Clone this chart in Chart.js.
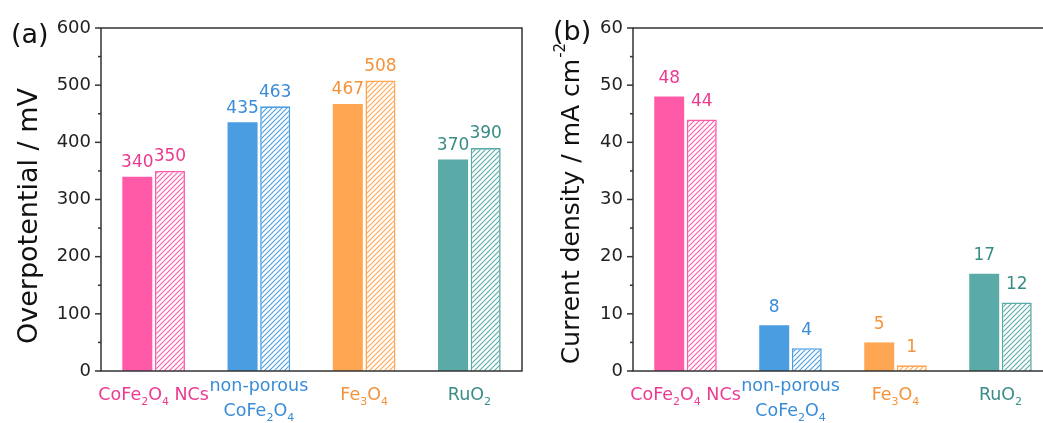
<!DOCTYPE html>
<html>
<head>
<meta charset="utf-8">
<script src="https://cdn.jsdelivr.net/npm/chart.js@4"></script>
<style>
  html, body { margin: 0; padding: 0; background: #fff; overflow: hidden; }
  #wrap { position: relative; width: 1043px; height: 423px; overflow: hidden; }
  .panel { position: absolute; top: 0; }
</style>
</head>
<body>
<div id="wrap">
  <div class="panel" style="left:0px"><canvas id="chartA" width="530" height="423"></canvas></div>
  <div class="panel" style="left:530px"><canvas id="chartB" width="540" height="423"></canvas></div>
</div>
<script>
// category labels, "_n" marks a subscript digit
const categoryLines = [
    ['CoFe_2O_4 NCs'],
    ['non-porous', 'CoFe_2O_4'],
    ['Fe_3O_4'],
    ['RuO_2']
];
const overpotentialSolid = [340, 435, 467, 370];
const overpotentialHatched = [350, 463, 508, 390];
const currentSolid = [48, 8, 5, 17];
const currentHatched = [44, 4, 1, 12];

const barColors = ['#ff5aa8', '#4a9de0', '#ffa652', '#5aaaa8'];
const textColors = ['#ec3a90', '#3a8cd8', '#f5923a', '#3a8c86'];

const FONT = '"DejaVu Sans", sans-serif';
const AXIS_COLOR = '#333';

// diagonal "////" hatching
function hatch(color) {
    const s = 5;
    const c = document.createElement('canvas');
    c.width = s; c.height = s;
    const g = c.getContext('2d');
    g.fillStyle = '#ffffff';
    g.fillRect(0, 0, s, s);
    g.strokeStyle = color;
    g.lineWidth = 1.1;
    g.beginPath();
    g.moveTo(0, s); g.lineTo(s, 0);
    g.moveTo(-1, 1); g.lineTo(1, -1);
    g.moveTo(s - 1, s + 1); g.lineTo(s + 1, s - 1);
    g.stroke();
    return g.createPattern(c, 'repeat');
}

// draws text where "_d" becomes a subscript, centred on x
function drawSubText(ctx, text, x, y, size, color) {
    const parts = [];
    let i = 0;
    while (i < text.length) {
        if (text[i] === '_' && i + 1 < text.length) {
            parts.push({ t: text[i + 1], sub: true });
            i += 2;
        } else {
            let j = i;
            while (j < text.length && text[j] !== '_') j++;
            parts.push({ t: text.slice(i, j), sub: false });
            i = j;
        }
    }
    const subSize = Math.round(size * 0.62);
    let total = 0;
    parts.forEach(p => {
        ctx.font = (p.sub ? subSize : size) + 'px ' + FONT;
        p.w = ctx.measureText(p.t).width;
        total += p.w;
    });
    let cx = x - total / 2;
    ctx.fillStyle = color;
    ctx.textAlign = 'left';
    ctx.textBaseline = 'middle';
    parts.forEach(p => {
        ctx.font = (p.sub ? subSize : size) + 'px ' + FONT;
        ctx.fillText(p.t, cx, p.sub ? y + 7 : y);
        cx += p.w;
    });
}

function makeDecor(opts) {
    return {
        id: 'decor',
        afterDraw(chart) {
            const ctx = chart.ctx;
            const area = chart.chartArea;
            const y = chart.scales.y;
            const x = chart.scales.x;
            ctx.save();

            // frame
            ctx.strokeStyle = AXIS_COLOR;
            ctx.lineWidth = 1.5;
            ctx.strokeRect(area.left, area.top, area.right - area.left, area.bottom - area.top);

            // major + minor ticks on the left axis
            for (let v = y.min; v <= y.max + 1e-9; v += opts.step / 2) {
                const py = y.getPixelForValue(v);
                const major = Math.abs(v / opts.step - Math.round(v / opts.step)) < 1e-6;
                ctx.beginPath();
                ctx.moveTo(area.left - (major ? 6 : 3), py);
                ctx.lineTo(area.left, py);
                ctx.stroke();
            }

            // value labels above bars
            ctx.font = '17px ' + FONT;
            ctx.textAlign = 'center';
            ctx.textBaseline = 'middle';
            chart.data.datasets.forEach((ds, di) => {
                const meta = chart.getDatasetMeta(di);
                meta.data.forEach((bar, i) => {
                    ctx.fillStyle = textColors[i];
                    ctx.fillText(String(ds.data[i]), bar.x, y.getPixelForValue(ds.data[i]) - opts.labelGap);
                });
            });

            // category labels
            categoryLines.forEach((lines, i) => {
                const cx = x.getPixelForValue(i);
                if (lines.length === 1) {
                    drawSubText(ctx, lines[0], cx, area.bottom + 24, 17.5, textColors[i]);
                } else {
                    drawSubText(ctx, lines[0], cx, area.bottom + 15, 17.5, textColors[i]);
                    drawSubText(ctx, lines[1], cx, area.bottom + 40, 17.5, textColors[i]);
                }
            });

            // panel letter
            ctx.fillStyle = '#111';
            ctx.font = '27px ' + FONT;
            ctx.textAlign = 'left';
            ctx.textBaseline = 'middle';
            ctx.fillText(opts.letter, opts.letterX, opts.letterY);

            // y axis title
            const ts = opts.titleSize;
            ctx.translate(opts.titleX, opts.titleY);
            ctx.rotate(-Math.PI / 2);
            ctx.font = ts + 'px ' + FONT;
            ctx.textBaseline = 'middle';
            ctx.textAlign = 'left';
            const mainW = ctx.measureText(opts.title).width;
            let supW = 0;
            if (opts.sup) {
                ctx.font = '15px ' + FONT;
                supW = ctx.measureText(opts.sup).width;
            }
            const start = -(mainW + supW) / 2;
            ctx.font = ts + 'px ' + FONT;
            ctx.fillText(opts.title, start, 0);
            if (opts.sup) {
                ctx.font = '15px ' + FONT;
                ctx.fillText(opts.sup, start + mainW + 1, -11);
            }
            ctx.restore();
        }
    };
}

function buildChart(id, solid, hatched, o) {
    return new Chart(document.getElementById(id), {
        type: 'bar',
        data: {
            labels: categoryLines.map(l => l.join(' ')),
            datasets: [
                {
                    data: solid,
                    backgroundColor: barColors,
                    borderWidth: 0,
                    categoryPercentage: o.catPct,
                    barPercentage: o.barPct
                },
                {
                    data: hatched,
                    backgroundColor: barColors.map(c => hatch(c)),
                    borderColor: barColors,
                    borderWidth: 1.6,
                    categoryPercentage: o.catPct,
                    barPercentage: o.barPct
                }
            ]
        },
        options: {
            responsive: false,
            animation: false,
            layout: { padding: { top: 28, bottom: 52, right: o.padRight, left: 0 } },
            plugins: { legend: { display: false }, tooltip: { enabled: false } },
            scales: {
                x: { display: false },
                y: {
                    min: 0,
                    max: o.max,
                    grid: { display: false, drawTicks: false },
                    border: { display: false },
                    ticks: {
                        stepSize: o.step,
                        padding: 10,
                        color: '#222',
                        font: { family: FONT, size: 18 }
                    },
                    afterFit(scale) { scale.width = o.left; }
                }
            }
        },
        plugins: [makeDecor(o)]
    });
}

buildChart('chartA', overpotentialSolid, overpotentialHatched, {
    max: 600, step: 100, left: 101, padRight: 8, catPct: 0.62, barPct: 0.92,
    labelGap: 14, letter: '(a)', letterX: 11, letterY: 36,
    title: 'Overpotential / mV', titleSize: 27, titleX: 30, titleY: 216
});

buildChart('chartB', currentSolid, currentHatched, {
    max: 60, step: 10, left: 103, padRight: 17, catPct: 0.62, barPct: 0.92,
    labelGap: 18, letter: '(b)', letterX: 23, letterY: 33,
    title: 'Current density / mA cm', sup: '-2', titleSize: 25, titleX: 42, titleY: 204
});
</script>
</body>
</html>
